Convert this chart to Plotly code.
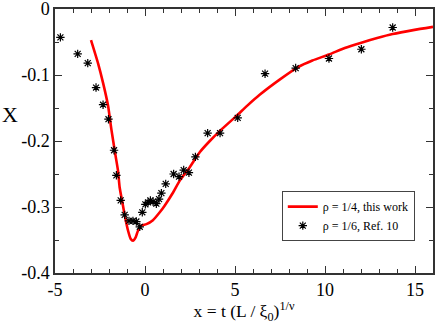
import plotly.graph_objects as go

# red curve: rho = 1/4, this work
curve_x = [-3.0, -2.6, -2.33, -2.05, -1.87, -1.65, -1.5, -1.41, -1.25, -1.13, -0.94, -0.8, -0.67,
           -0.52, -0.39, -0.2, 0.08, 0.44, 0.82, 1.09, 1.56, 1.93, 2.48, 3.04, 3.6, 4.15,
           5.08, 5.7, 6.37, 7.48, 8.5, 9.3, 10.22, 11.1, 12.02, 12.9, 13.76, 14.9, 16.0]
curve_y = [-0.047, -0.083, -0.112, -0.147, -0.182, -0.22, -0.245, -0.270, -0.294, -0.312, -0.336, -0.348, -0.351,
           -0.346, -0.336, -0.328, -0.326, -0.320, -0.308, -0.298, -0.278, -0.260, -0.240, -0.217, -0.200, -0.185,
           -0.162, -0.146, -0.130, -0.107, -0.088, -0.078, -0.069, -0.059, -0.051, -0.044, -0.038, -0.032, -0.027]

# black asterisks: rho = 1/6, Ref. 10
ref_x = [-4.70, -3.74, -3.18, -2.72, -2.33, -2.03, -1.72, -1.59, -1.35, -1.13, -0.89, -0.67, -0.48, -0.29,
         -0.15, 0.02, 0.17, 0.30, 0.45, 0.63, 0.78, 0.91, 1.15, 1.59, 1.89, 2.15, 2.44, 2.80,
         3.48, 4.17, 5.15, 6.67, 8.37, 10.22, 12.02, 13.76]
ref_y = [-0.043, -0.068, -0.082, -0.119, -0.145, -0.167, -0.214, -0.252, -0.290, -0.312, -0.321, -0.321, -0.322, -0.330,
         -0.308, -0.296, -0.293, -0.290, -0.292, -0.295, -0.288, -0.279, -0.265, -0.250, -0.254, -0.244, -0.248, -0.224,
         -0.188, -0.188, -0.165, -0.098, -0.0895, -0.075, -0.061, -0.028]

# tick labels, plain hyphen like the original
x_ticks = [-5, 0, 5, 10, 15]
x_ticktext = ["-5", "0", "5", "10", "15"]
y_ticks = [-0.4, -0.3, -0.2, -0.1, 0]
y_ticktext = ["-0.4", "-0.3", "-0.2", "-0.1", "0"]

serif = "Liberation Serif, Times New Roman, serif"

fig = go.Figure()
fig.add_trace(go.Scatter(x=curve_x, y=curve_y, mode="lines",
                         line=dict(color="#ff0000", width=2.6, shape="spline", smoothing=0.6),
                         name="\u03c1 = 1/4, this work"))
fig.add_trace(go.Scatter(x=ref_x, y=ref_y, mode="markers",
                         marker=dict(symbol="asterisk-open", size=7, color="black", line=dict(color="black", width=1.2)),
                         name="\u03c1 = 1/6, Ref. 10"))

axis_common = dict(showline=True, linecolor="#333333", linewidth=1.5, mirror="ticks", ticks="inside",
                   ticklen=7, tickwidth=1, tickcolor="#333333", showgrid=False, zeroline=False,
                   automargin=False, ticklabeloverflow="allow",
                   tickfont=dict(family=serif, size=18, color="black"))

fig.update_xaxes(range=[-5, 16], tickvals=x_ticks, ticktext=x_ticktext,
                 minor=dict(dtick=1, tick0=-5, ticks="inside", ticklen=4, tickcolor="#333333"),
                 title=dict(text="x = t (L / \u03be<sub>0</sub>)<sup>1/\u03bd</sup>",
                            font=dict(family=serif, size=17.5, color="black"), standoff=1),
                 **axis_common)
fig.update_yaxes(range=[-0.4, 0], tickvals=y_ticks, ticktext=y_ticktext,
                 minor=dict(dtick=0.05, tick0=0, ticks="inside", ticklen=4, tickcolor="#333333"),
                 **axis_common)

fig.add_annotation(text="X", xref="paper", yref="paper", x=-0.119, y=0.6, xanchor="center", yanchor="middle",
                   showarrow=False, font=dict(family=serif, size=22, color="black"))

fig.update_layout(
    width=436, height=324,
    margin=dict(l=55, r=3, t=9, b=51),
    plot_bgcolor="white", paper_bgcolor="white",
    legend=dict(x=0.6, y=0.31, xanchor="left", yanchor="top", bgcolor="white",
                bordercolor="#444444", borderwidth=1, font=dict(family=serif, size=12, color="black"),
                tracegroupgap=0, itemwidth=30),
)

# the page body has a default 8px margin, drop it so the figure sits at the window corner
fig.write_html("out.html", config={"displayModeBar": False},
               post_script="document.body.style.margin='0';")
